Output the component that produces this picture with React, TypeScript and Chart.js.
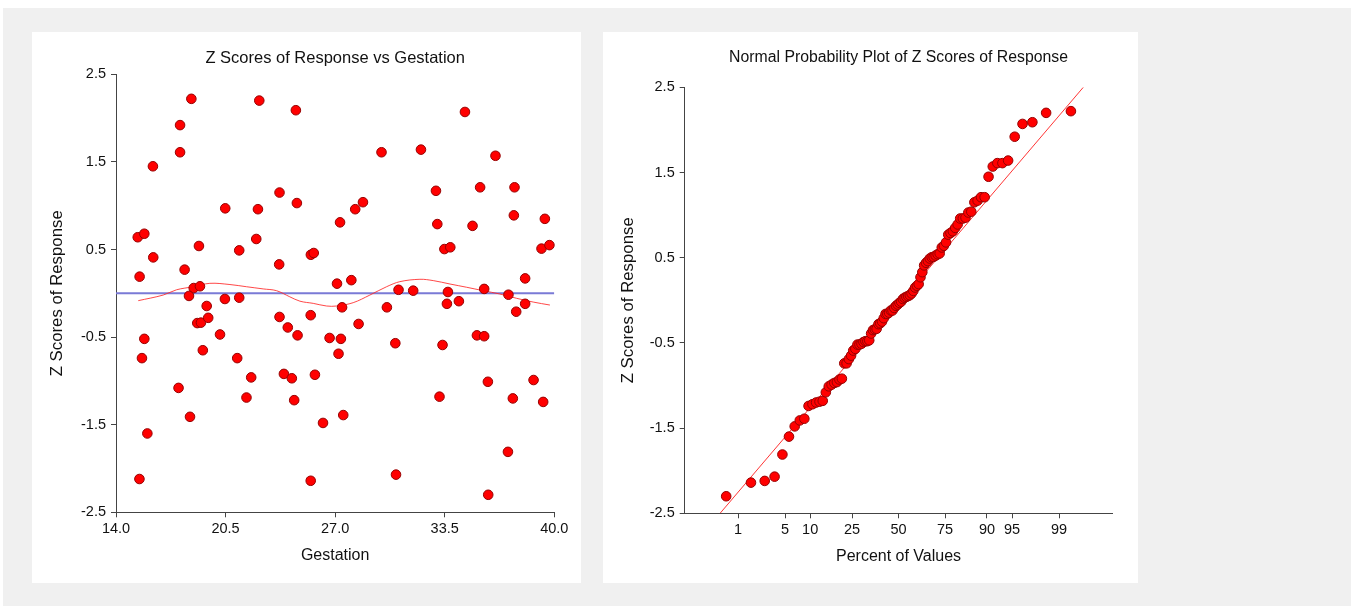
import React, { useEffect, useRef } from 'react';
import { Chart, registerables } from 'chart.js';

Chart.register(...registerables);

// ---------- data ----------
const gestation = [
  15.29, 15.68, 15.40, 16.19, 16.21, 17.80, 17.80, 18.47, 18.07, 18.92,
  18.61, 18.98, 18.33, 19.38, 18.82, 19.04, 19.47, 20.48, 20.46, 21.31,
  21.31, 20.17, 22.50, 22.42, 22.32, 23.70, 23.68, 24.67, 24.73, 23.70,
  24.19, 24.77, 25.56, 25.73, 25.55, 27.29, 27.11, 27.96, 27.41, 28.39,
  28.19, 28.65, 29.75, 30.07, 30.76, 31.63, 32.09, 32.98, 33.06, 33.48,
  33.83, 33.69, 33.63, 34.34, 34.70, 35.15, 35.60, 35.84, 36.51, 37.64,
  37.60, 37.28, 38.27, 38.27, 37.74, 39.44, 39.24, 39.71, 15.68, 15.54,
  15.86, 15.39, 17.71, 18.39, 19.15, 21.19, 22.02, 21.74, 23.96, 24.43,
  24.57, 25.55, 26.67, 27.34, 27.20, 25.80, 27.48, 26.28, 30.57, 30.61,
  33.37, 33.19, 35.41, 35.84, 36.06, 36.08, 37.54, 37.25, 38.77, 39.34,
];
const zScores = [
  0.64, 0.68, 0.19, 1.45, 0.41, 1.92, 1.61, 2.22, 0.27, 0.54,
  0.06, 0.08, -0.03, -0.145, -0.34, -0.335, -0.28, 0.97, -0.065, 0.49,
  -0.05, -0.47, 2.20, 0.96, 0.62, 1.15, 0.33, 2.09, 1.03, -0.27,
  -0.39, -0.48, 0.44, 0.46, -0.25, 0.81, 0.11, 0.15, -0.16, -0.35,
  0.96, 1.04, 1.61, -0.16, 0.04, 0.03, 1.64, 1.17, 0.79, 0.505,
  0.525, 0.015, -0.12, -0.09, 2.07, 0.77, 1.21, 0.05, 1.57, 1.21,
  0.89, -0.016, 0.17, -0.12, -0.21, 0.85, 0.51, 0.55, -0.52, -0.74,
  -1.60, -2.12, -1.08, -1.41, -0.65, -0.74, -0.96, -1.19, -0.92, -0.97,
  -1.22, -2.14, -0.51, -0.52, -0.69, -0.93, -1.39, -1.48, -0.57, -2.07,
  -0.59, -1.18, -0.48, -0.49, -1.01, -2.30, -1.20, -1.81, -0.99, -1.24,
];
const loessX = [
  15.32, 16.8, 17.59, 18.58, 19.57, 20.76, 21.74, 22.73, 23.52, 24.31,
  24.91, 25.70, 26.49, 27.09, 28.07, 29.06, 30.05, 30.84, 32.03, 32.82,
  33.81, 34.80, 35.78, 36.77, 37.76, 38.75, 39.74,
];
const loessY = [
  -0.084, -0.02, 0.04, 0.075, 0.114, 0.10, 0.075, 0.05, 0.03, -0.04,
  -0.09, -0.115, -0.145, -0.145, -0.107, -0.02, 0.075, 0.133, 0.16, 0.145,
  0.106, 0.069, 0.03, -0.008, -0.057, -0.1, -0.134,
];
const zeroLineX = [14, 40];
const zeroLineY = [0, 0];
const gestationTicks = [14.0, 20.5, 27.0, 33.5, 40.0];
const zTicks = [-2.5, -1.5, -0.5, 0.5, 1.5, 2.5];
const percentTicks = [1, 5, 10, 25, 50, 75, 90, 95, 99];
const refLineQ = [-2.587, 2.678];
const refLineZ = [-2.5, 2.5];

// ---------- helpers ----------
function invNorm(p: number): number {
  const a = [-3.969683028665376e1, 2.209460984245205e2, -2.759285104469687e2, 1.38357751867269e2, -3.066479806614716e1, 2.506628277459239];
  const b = [-5.447609879822406e1, 1.615858368580409e2, -1.556989798598866e2, 6.680131188771972e1, -1.328068155288572e1];
  const c = [-7.784894002430293e-3, -3.223964580411365e-1, -2.400758277161838, -2.549732539343734, 4.374664141464968, 2.938163982698783];
  const d = [7.784695709041462e-3, 3.224671290700398e-1, 2.445134137142996, 3.754408661907416];
  const pl = 0.02425;
  if (p < pl) {
    const q = Math.sqrt(-2 * Math.log(p));
    return (((((c[0] * q + c[1]) * q + c[2]) * q + c[3]) * q + c[4]) * q + c[5]) / ((((d[0] * q + d[1]) * q + d[2]) * q + d[3]) * q + 1);
  }
  if (p > 1 - pl) {
    const q = Math.sqrt(-2 * Math.log(1 - p));
    return -(((((c[0] * q + c[1]) * q + c[2]) * q + c[3]) * q + c[4]) * q + c[5]) / ((((d[0] * q + d[1]) * q + d[2]) * q + d[3]) * q + 1);
  }
  const q = p - 0.5;
  const r = q * q;
  return (((((a[0] * r + a[1]) * r + a[2]) * r + a[3]) * r + a[4]) * r + a[5]) * q / (((((b[0] * r + b[1]) * r + b[2]) * r + b[3]) * r + b[4]) * r + 1);
}

const FONT = "'Liberation Sans', Arial, sans-serif";
const TXT = '#111';
const AXIS = '#444';
const POINT_FILL = 'rgb(255,0,0)';
const POINT_BORDER = 'rgb(150,0,0)';
const TICK_SIZE = 14.5;
const X_TITLE_SIZE = 16;
const Y_TITLE_SIZE = 16.8;

// draws the chart title centred over the plot area
function centeredTitle(text: string, size: number, y: number) {
  return {
    id: 'centeredTitle',
    afterDraw(chart: any) {
      const { ctx, chartArea } = chart;
      ctx.save();
      ctx.font = `normal ${size}px ${FONT}`;
      ctx.fillStyle = TXT;
      ctx.textAlign = 'center';
      ctx.textBaseline = 'middle';
      ctx.fillText(text, (chartArea.left + chartArea.right) / 2, y);
      ctx.restore();
    },
  };
}

function axisCommon(titleText: string, size: number) {
  return {
    type: 'linear' as const,
    grid: { drawOnChartArea: false, drawTicks: true, tickLength: 5, color: AXIS, lineWidth: 1 },
    border: { display: true, color: AXIS, width: 1 },
    title: { display: true, text: titleText, color: TXT, font: { family: FONT, size, weight: 'normal' as const }, padding: { top: 0, bottom: 0 } },
  };
}

function ScatterPanel() {
  const ref = useRef<HTMLCanvasElement | null>(null);
  useEffect(() => {
    if (!ref.current) return;
    const pts = gestation.map((g, i) => ({ x: g, y: zScores[i] }));
    const loess = loessX.map((x, i) => ({ x, y: loessY[i] }));
    const zero = zeroLineX.map((x, i) => ({ x, y: zeroLineY[i] }));
    const chart = new Chart(ref.current, {
      type: 'scatter',
      data: {
        datasets: [
          { data: pts, backgroundColor: POINT_FILL, borderColor: POINT_BORDER, borderWidth: 1, pointRadius: 4.8, showLine: false, order: 0, clip: false } as any,
          { data: loess, borderColor: 'rgba(255,40,40,0.85)', borderWidth: 1, pointRadius: 0, showLine: true, tension: 0.35, order: 1 } as any,
          { data: zero, borderColor: 'rgb(122,122,214)', borderWidth: 2, pointRadius: 0, showLine: true, order: 2 } as any,
        ],
      },
      plugins: [centeredTitle('Z Scores of Response vs Gestation', 16.5, 26)],
      options: {
        responsive: false,
        animation: false,
        devicePixelRatio: 1,
        layout: { padding: { left: 14.9, right: 26.7, top: 42.3, bottom: 17.4 } },
        plugins: {
          legend: { display: false },
          tooltip: { enabled: false },
          title: { display: false },
        },
        scales: {
          x: {
            ...axisCommon('Gestation', X_TITLE_SIZE),
            min: 14,
            max: 40,
            afterBuildTicks: (s: any) => { s.ticks = gestationTicks.map((v) => ({ value: v })); },
            ticks: { callback: (v: any) => Number(v).toFixed(1), color: TXT, font: { family: FONT, size: TICK_SIZE }, padding: 3, maxRotation: 0, autoSkip: false },
            afterFit: (s: any) => { s.height = 53.3; },
          },
          y: {
            ...axisCommon('Z Scores of Response', Y_TITLE_SIZE),
            min: -2.5,
            max: 2.5,
            afterBuildTicks: (s: any) => { s.ticks = zTicks.map((v) => ({ value: v })); },
            ticks: { callback: (v: any) => Number(v).toFixed(1), color: TXT, font: { family: FONT, size: TICK_SIZE }, padding: 5, autoSkip: false },
            afterFit: (s: any) => { s.width = 69.1; },
          },
        },
      } as any,
    });
    return () => chart.destroy();
  }, []);
  return <canvas ref={ref} width={549} height={551} style={{ display: 'block', width: 549, height: 551 }} />;
}

function ProbabilityPanel() {
  const ref = useRef<HTMLCanvasElement | null>(null);
  useEffect(() => {
    if (!ref.current) return;
    const sorted = [...zScores].sort((a, b) => a - b);
    const n = sorted.length;
    const pts = sorted.map((z, i) => ({ x: invNorm((i + 1 - 0.375) / (n + 0.25)), y: z }));
    const refLine = refLineQ.map((q, i) => ({ x: q, y: refLineZ[i] }));
    const chart = new Chart(ref.current, {
      type: 'scatter',
      data: {
        datasets: [
          { data: pts, backgroundColor: POINT_FILL, borderColor: POINT_BORDER, borderWidth: 1, pointRadius: 4.8, showLine: false, order: 0, clip: false } as any,
          { data: refLine, borderColor: 'rgba(255,30,30,0.9)', borderWidth: 1, pointRadius: 0, showLine: true, order: 1 } as any,
        ],
      },
      plugins: [centeredTitle('Normal Probability Plot of Z Scores of Response', 15.8, 25.5)],
      options: {
        responsive: false,
        animation: false,
        devicePixelRatio: 1,
        layout: { padding: { left: 14.9, right: 25.6, top: 55.3, bottom: 16.7 } },
        plugins: {
          legend: { display: false },
          tooltip: { enabled: false },
          title: { display: false },
        },
        scales: {
          x: {
            ...axisCommon('Percent of Values', X_TITLE_SIZE),
            min: -3.1,
            max: 3.1,
            afterBuildTicks: (s: any) => { s.ticks = percentTicks.map((p) => ({ value: invNorm(p / 100) })); },
            ticks: { callback: (_v: any, i: number) => String(percentTicks[i]), color: TXT, font: { family: FONT, size: TICK_SIZE }, padding: 3, maxRotation: 0, autoSkip: false },
            afterFit: (s: any) => { s.height = 53; },
          },
          y: {
            ...axisCommon('Z Scores of Response', Y_TITLE_SIZE),
            min: -2.5,
            max: 2.5,
            afterBuildTicks: (s: any) => { s.ticks = zTicks.map((v) => ({ value: v })); },
            ticks: { callback: (v: any) => Number(v).toFixed(1), color: TXT, font: { family: FONT, size: TICK_SIZE }, padding: 5, autoSkip: false },
            afterFit: (s: any) => { s.width = 66.8; },
          },
        },
      } as any,
    });
    return () => chart.destroy();
  }, []);
  return <canvas ref={ref} width={535} height={551} style={{ display: 'block', width: 535, height: 551 }} />;
}

export default function App() {
  return (
    <div style={{ position: 'absolute', left: 0, top: 0, width: 1354, height: 606, background: '#ffffff', overflow: 'hidden' }}>
      <div style={{ position: 'absolute', left: 3, top: 8, width: 1348, height: 598, background: '#f0f0f0' }} />
      <div style={{ position: 'absolute', left: 32, top: 32, width: 549, height: 551, background: '#ffffff' }}>
        <ScatterPanel />
      </div>
      <div style={{ position: 'absolute', left: 603, top: 32, width: 535, height: 551, background: '#ffffff' }}>
        <ProbabilityPanel />
      </div>
    </div>
  );
}
